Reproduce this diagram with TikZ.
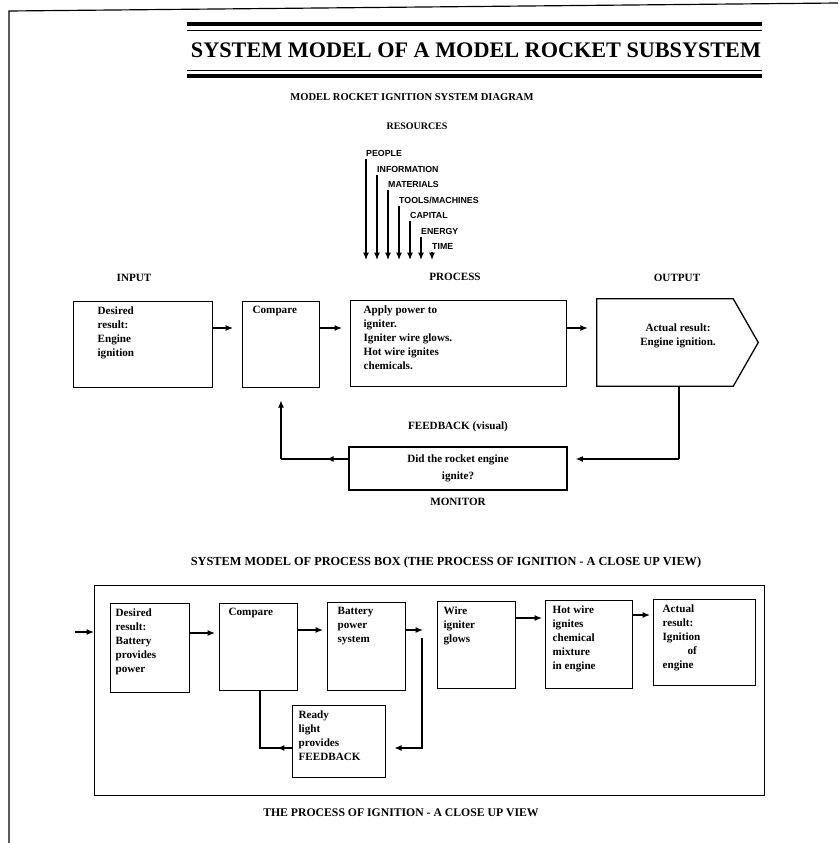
\documentclass[tikz,border=0pt]{standalone}
\usepackage{fontspec}
\setmainfont{Liberation Serif}
\setsansfont{Liberation Sans}
\usepackage{graphicx}
\usetikzlibrary{arrows.meta}

\tikzset{
  blk/.style={draw, line width=1.1pt, anchor=north west, inner ysep=4pt,
    font=\fontsize{9.5}{12}\selectfont\bfseries},
  txt/.style={align=center, font=\fontsize{9.5}{12}\selectfont\bfseries},
  hd/.style={font=\fontsize{9.5}{11}\selectfont\bfseries},
  res/.style={anchor=south west, inner sep=0pt, font=\sffamily\bfseries\fontsize{7.5}{8}\selectfont},
  link/.style={line width=1.1pt},
  flow/.style={line width=1.1pt, -{Latex[length=2.2mm,width=1.8mm]}},
}
% top aligned box text: height, width, text
\newcommand{\boxtxt}[3]{\parbox[c][#1][t]{#2}{\raggedright #3}}

\begin{document}
\begin{tikzpicture}[x=0.03cm, y=-0.03cm]
\useasboundingbox (0,0) rectangle (838,843);
% page edge
\draw[line width=1pt] (9,843) -- (9,11) -- (838,3);

% heading
\draw[line width=4pt] (187,24) -- (762,24);
\draw[line width=0.8pt] (187,30) -- (762,30);
\draw[line width=0.8pt] (187,70) -- (762,70);
\draw[line width=4pt] (187,76) -- (762,76);
\node (title) at (476,50) {\resizebox{17.1cm}{!}{\bfseries SYSTEM MODEL OF A MODEL ROCKET SUBSYSTEM}};
\node[hd, font=\fontsize{9}{10}\selectfont\bfseries] (sub) at (412,97) {MODEL ROCKET IGNITION SYSTEM DIAGRAM};

% resources
\node[hd, font=\fontsize{8.5}{10}\selectfont\bfseries] (resh) at (417,126) {RESOURCES};
\coordinate (resbot) at (0,260);
\foreach \lab [count=\i from 0] in {PEOPLE,INFORMATION,MATERIALS,TOOLS/MACHINES,CAPITAL,ENERGY,TIME}{
  \node[res] (r\i) at ({366+11*\i},{157+15.5*\i}) {\lab};
  \draw[flow] ([yshift=-2pt]r\i.south west) -- (r\i.south west |- resbot);
}

% system model
\node[hd] (inh) at (134,278) {INPUT};
\node[hd] (proch) at (455,277) {PROCESS};
\node[hd] (outh) at (677,278) {OUTPUT};

\node[blk, inner xsep=0.72cm] (inp) at (73,301) {\boxtxt{2.30cm}{2.73cm}{Desired\\ result:\\ Engine\\ ignition}};
\node[blk, inner xsep=0.3cm] (cmpA) at (242,301) {\boxtxt{2.30cm}{1.71cm}{Compare}};
\node[blk, inner xsep=0.39cm] (proc) at (350,300) {\boxtxt{2.30cm}{5.70cm}{Apply power to\\ igniter.\\ Igniter wire glows.\\ Hot wire ignites\\ chemicals.}};
\node[minimum width=4.08cm, minimum height=2.61cm] (outbox) at (665,342.5) {};
\draw[link] (outbox.north west) -- (outbox.north east) -- ([xshift=0.75cm]outbox.east)
  -- (outbox.south east) -- (outbox.south west) -- cycle;
\node[txt] (outtxt) at (678,336) {Actual result:\\ Engine ignition.};

\coordinate (rowA) at (0,328);
\draw[flow, shorten >=0.27cm] (inp.east |- rowA) -- (cmpA.west |- rowA);
\draw[flow, shorten >=0.24cm] (cmpA.east |- rowA) -- (proc.west |- rowA);
\draw[flow, shorten >=0.27cm] (proc.east |- rowA) -- (outbox.west |- rowA);

% feedback loop
\node[hd] (fbh) at (458,427) {FEEDBACK (visual)};
\node[draw, link, txt, font=\fontsize{9.5}{15}\selectfont\bfseries, minimum width=6.54cm,
  minimum height=1.29cm] (mon) at (458,468.5) {Did the rocket engine\\ ignite?};
\node[hd] (monh) at (458,502) {MONITOR};
\coordinate (fbL) at (281,459);
\coordinate (fbR) at (679,459);
\draw[link] (outbox.south -| fbR) -- (fbR);
\draw[flow, shorten >=0.24cm] (fbR) -- (mon.east |- fbR);
\draw[link] (mon.west |- fbL) -- (fbL);
\draw[flow] (mon.west |- fbL) -- ++(-22,0);
\draw[flow, shorten >=0.36cm] (fbL) -- (fbL |- cmpA.south);

% close up of the process box
\node[hd, font=\fontsize{10.5}{12}\selectfont\bfseries] (sech) at (446,563)
  {SYSTEM MODEL OF PROCESS BOX (THE PROCESS OF IGNITION - A CLOSE UP VIEW)};
\node[draw, link, anchor=north west, minimum width=20.1cm, minimum height=6.3cm] (frame) at (94,585) {};
\coordinate (inB) at (75,632);
\draw[flow] (inB) -- (frame.west |- inB);

\node[blk, inner xsep=0.15cm] (des) at (110,603) {\boxtxt{2.39cm}{2.07cm}{Desired\\ result:\\ Battery\\ provides\\ power}};
\node[blk, inner xsep=0.27cm] (cmpB) at (219,603) {\boxtxt{2.33cm}{1.80cm}{Compare}};
\node[blk, inner xsep=0.3cm] (bat) at (327,602) {\boxtxt{2.36cm}{1.74cm}{Battery\\ power\\ system}};
\node[blk, inner xsep=0.18cm] (wire) at (437,601) {\boxtxt{2.33cm}{1.98cm}{Wire\\ igniter\\ glows}};
\node[blk, inner xsep=0.21cm] (hot) at (545,600) {\boxtxt{2.36cm}{2.19cm}{Hot wire\\ ignites\\ chemical\\ mixture\\ in engine}};
\node[blk, inner xsep=0.27cm] (act) at (653,599) {\boxtxt{2.30cm}{2.52cm}{Actual\\ result:\\ Ignition\\ \hspace*{0.75cm}of\\ engine}};
\node[blk, inner xsep=0.18cm] (ready) at (292,705) {\boxtxt{1.88cm}{2.43cm}{Ready\\ light\\ provides\\ FEEDBACK}};

\draw[flow, shorten >=0.12cm] (des.east |- 0,633) -- (cmpB.west |- 0,633);
\draw[flow, shorten >=0.12cm] (cmpB.east |- 0,630) -- (bat.west |- 0,630);
\draw[flow, shorten >=0.42cm] (bat.east |- 0,630) -- (wire.west |- 0,630);
\draw[flow, shorten >=0.09cm] (wire.east |- 0,618) -- (hot.west |- 0,618);
\draw[flow, shorten >=0.09cm] (hot.east |- 0,615) -- (act.west |- 0,615);

\coordinate (jn) at (422,638);
\coordinate (rdR) at (422,748);
\coordinate (rdL) at (260,748);
\draw[flow, shorten >=0.24cm] (jn) -- (rdR) -- (ready.east |- rdR);
\draw[link] (ready.west |- rdL) -- (rdL) -- (rdL |- cmpB.south);
\draw[flow] (ready.west |- rdL) -- ++(-15,0);

\node[hd, font=\fontsize{10}{12}\selectfont\bfseries] (cap) at (401,813) {THE PROCESS OF IGNITION - A CLOSE UP VIEW};
\end{tikzpicture}
\end{document}
